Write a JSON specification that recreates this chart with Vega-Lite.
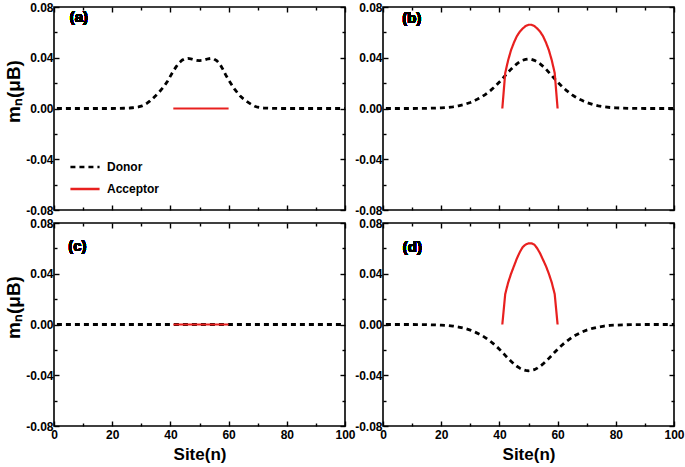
{
"$schema":"https://vega.github.io/schema/vega-lite/v6.json",
"autosize":{"type":"pad"},
"padding":{"left":3,"top":0,"right":0,"bottom":0},
"background":"white",
"datasets":{
"d":[
{"p":"a","s":"Donor","n":1,"m":0},{"p":"a","s":"Donor","n":5,"m":0},{"p":"a","s":"Donor","n":10,"m":0},{"p":"a","s":"Donor","n":15,"m":0},{"p":"a","s":"Donor","n":20,"m":0},{"p":"a","s":"Donor","n":22,"m":0.0001},{"p":"a","s":"Donor","n":24,"m":0.0002},{"p":"a","s":"Donor","n":26,"m":0.0004},{"p":"a","s":"Donor","n":27,"m":0.0006},{"p":"a","s":"Donor","n":28,"m":0.0008},{"p":"a","s":"Donor","n":29,"m":0.0012},{"p":"a","s":"Donor","n":30,"m":0.0018},{"p":"a","s":"Donor","n":31,"m":0.0028},{"p":"a","s":"Donor","n":32,"m":0.0042},{"p":"a","s":"Donor","n":33,"m":0.006},{"p":"a","s":"Donor","n":34,"m":0.008},{"p":"a","s":"Donor","n":35,"m":0.0102},{"p":"a","s":"Donor","n":36,"m":0.0125},{"p":"a","s":"Donor","n":37,"m":0.0152},{"p":"a","s":"Donor","n":38,"m":0.018},{"p":"a","s":"Donor","n":39,"m":0.0215},{"p":"a","s":"Donor","n":40,"m":0.0255},{"p":"a","s":"Donor","n":41,"m":0.0295},{"p":"a","s":"Donor","n":42,"m":0.033},{"p":"a","s":"Donor","n":43,"m":0.036},{"p":"a","s":"Donor","n":44,"m":0.038},{"p":"a","s":"Donor","n":45,"m":0.0392},{"p":"a","s":"Donor","n":46,"m":0.0395},{"p":"a","s":"Donor","n":47,"m":0.0392},{"p":"a","s":"Donor","n":48,"m":0.0385},{"p":"a","s":"Donor","n":49,"m":0.038},{"p":"a","s":"Donor","n":50,"m":0.0378},{"p":"a","s":"Donor","n":51,"m":0.038},{"p":"a","s":"Donor","n":52,"m":0.0385},{"p":"a","s":"Donor","n":53,"m":0.0392},{"p":"a","s":"Donor","n":54,"m":0.0395},{"p":"a","s":"Donor","n":55,"m":0.039},{"p":"a","s":"Donor","n":56,"m":0.0375},{"p":"a","s":"Donor","n":57,"m":0.035},{"p":"a","s":"Donor","n":58,"m":0.031},{"p":"a","s":"Donor","n":59,"m":0.0265},{"p":"a","s":"Donor","n":60,"m":0.0225},{"p":"a","s":"Donor","n":61,"m":0.019},{"p":"a","s":"Donor","n":62,"m":0.0155},{"p":"a","s":"Donor","n":63,"m":0.0125},{"p":"a","s":"Donor","n":64,"m":0.0098},{"p":"a","s":"Donor","n":65,"m":0.0078},{"p":"a","s":"Donor","n":66,"m":0.006},{"p":"a","s":"Donor","n":67,"m":0.0044},{"p":"a","s":"Donor","n":68,"m":0.003},{"p":"a","s":"Donor","n":69,"m":0.0018},{"p":"a","s":"Donor","n":70,"m":0.001},{"p":"a","s":"Donor","n":71,"m":0.0006},{"p":"a","s":"Donor","n":72,"m":0.0004},{"p":"a","s":"Donor","n":74,"m":0.0002},{"p":"a","s":"Donor","n":76,"m":0.0001},{"p":"a","s":"Donor","n":78,"m":0},{"p":"a","s":"Donor","n":80,"m":0},{"p":"a","s":"Donor","n":85,"m":0},{"p":"a","s":"Donor","n":90,"m":0},{"p":"a","s":"Donor","n":95,"m":0},{"p":"a","s":"Donor","n":100,"m":0},
{"p":"a","s":"Acceptor","n":41,"m":0},{"p":"a","s":"Acceptor","n":42,"m":0},{"p":"a","s":"Acceptor","n":43,"m":0},{"p":"a","s":"Acceptor","n":44,"m":0},{"p":"a","s":"Acceptor","n":45,"m":0},{"p":"a","s":"Acceptor","n":46,"m":0},{"p":"a","s":"Acceptor","n":47,"m":0},{"p":"a","s":"Acceptor","n":48,"m":0},{"p":"a","s":"Acceptor","n":49,"m":0},{"p":"a","s":"Acceptor","n":50,"m":0},{"p":"a","s":"Acceptor","n":51,"m":0},{"p":"a","s":"Acceptor","n":52,"m":0},{"p":"a","s":"Acceptor","n":53,"m":0},{"p":"a","s":"Acceptor","n":54,"m":0},{"p":"a","s":"Acceptor","n":55,"m":0},{"p":"a","s":"Acceptor","n":56,"m":0},{"p":"a","s":"Acceptor","n":57,"m":0},{"p":"a","s":"Acceptor","n":58,"m":0},{"p":"a","s":"Acceptor","n":59,"m":0},{"p":"a","s":"Acceptor","n":60,"m":0},
{"p":"b","s":"Donor","n":1,"m":0},{"p":"b","s":"Donor","n":5,"m":0},{"p":"b","s":"Donor","n":10,"m":0},{"p":"b","s":"Donor","n":15,"m":0.0001},{"p":"b","s":"Donor","n":20,"m":0.0005},{"p":"b","s":"Donor","n":22,"m":0.0008},{"p":"b","s":"Donor","n":24,"m":0.0013},{"p":"b","s":"Donor","n":26,"m":0.0021},{"p":"b","s":"Donor","n":28,"m":0.0032},{"p":"b","s":"Donor","n":30,"m":0.0047},{"p":"b","s":"Donor","n":31,"m":0.0057},{"p":"b","s":"Donor","n":32,"m":0.0068},{"p":"b","s":"Donor","n":33,"m":0.008},{"p":"b","s":"Donor","n":34,"m":0.0093},{"p":"b","s":"Donor","n":35,"m":0.0108},{"p":"b","s":"Donor","n":36,"m":0.0125},{"p":"b","s":"Donor","n":37,"m":0.0143},{"p":"b","s":"Donor","n":38,"m":0.0163},{"p":"b","s":"Donor","n":39,"m":0.0185},{"p":"b","s":"Donor","n":40,"m":0.0208},{"p":"b","s":"Donor","n":41,"m":0.0233},{"p":"b","s":"Donor","n":42,"m":0.026},{"p":"b","s":"Donor","n":43,"m":0.0285},{"p":"b","s":"Donor","n":44,"m":0.031},{"p":"b","s":"Donor","n":45,"m":0.0332},{"p":"b","s":"Donor","n":46,"m":0.0352},{"p":"b","s":"Donor","n":47,"m":0.0368},{"p":"b","s":"Donor","n":48,"m":0.038},{"p":"b","s":"Donor","n":49,"m":0.0387},{"p":"b","s":"Donor","n":50,"m":0.039},{"p":"b","s":"Donor","n":51,"m":0.0387},{"p":"b","s":"Donor","n":52,"m":0.038},{"p":"b","s":"Donor","n":53,"m":0.0368},{"p":"b","s":"Donor","n":54,"m":0.0352},{"p":"b","s":"Donor","n":55,"m":0.0332},{"p":"b","s":"Donor","n":56,"m":0.031},{"p":"b","s":"Donor","n":57,"m":0.0285},{"p":"b","s":"Donor","n":58,"m":0.026},{"p":"b","s":"Donor","n":59,"m":0.0233},{"p":"b","s":"Donor","n":60,"m":0.0208},{"p":"b","s":"Donor","n":61,"m":0.0185},{"p":"b","s":"Donor","n":62,"m":0.0163},{"p":"b","s":"Donor","n":63,"m":0.0143},{"p":"b","s":"Donor","n":64,"m":0.0125},{"p":"b","s":"Donor","n":65,"m":0.0108},{"p":"b","s":"Donor","n":66,"m":0.0093},{"p":"b","s":"Donor","n":67,"m":0.008},{"p":"b","s":"Donor","n":68,"m":0.0068},{"p":"b","s":"Donor","n":69,"m":0.0057},{"p":"b","s":"Donor","n":70,"m":0.0047},{"p":"b","s":"Donor","n":72,"m":0.0032},{"p":"b","s":"Donor","n":74,"m":0.0021},{"p":"b","s":"Donor","n":76,"m":0.0013},{"p":"b","s":"Donor","n":78,"m":0.0008},{"p":"b","s":"Donor","n":80,"m":0.0005},{"p":"b","s":"Donor","n":85,"m":0.0001},{"p":"b","s":"Donor","n":90,"m":0},{"p":"b","s":"Donor","n":95,"m":0},{"p":"b","s":"Donor","n":100,"m":0},
{"p":"b","s":"Acceptor","n":41,"m":0},{"p":"b","s":"Acceptor","n":42,"m":0.028},{"p":"b","s":"Acceptor","n":43,"m":0.038},{"p":"b","s":"Acceptor","n":44,"m":0.046},{"p":"b","s":"Acceptor","n":45,"m":0.052},{"p":"b","s":"Acceptor","n":46,"m":0.057},{"p":"b","s":"Acceptor","n":47,"m":0.0605},{"p":"b","s":"Acceptor","n":48,"m":0.063},{"p":"b","s":"Acceptor","n":49,"m":0.065},{"p":"b","s":"Acceptor","n":50,"m":0.066},{"p":"b","s":"Acceptor","n":51,"m":0.066},{"p":"b","s":"Acceptor","n":52,"m":0.065},{"p":"b","s":"Acceptor","n":53,"m":0.063},{"p":"b","s":"Acceptor","n":54,"m":0.0605},{"p":"b","s":"Acceptor","n":55,"m":0.057},{"p":"b","s":"Acceptor","n":56,"m":0.052},{"p":"b","s":"Acceptor","n":57,"m":0.046},{"p":"b","s":"Acceptor","n":58,"m":0.038},{"p":"b","s":"Acceptor","n":59,"m":0.028},{"p":"b","s":"Acceptor","n":60,"m":0},
{"p":"c","s":"Donor","n":1,"m":0},{"p":"c","s":"Donor","n":5,"m":0},{"p":"c","s":"Donor","n":10,"m":0},{"p":"c","s":"Donor","n":15,"m":0},{"p":"c","s":"Donor","n":20,"m":0},{"p":"c","s":"Donor","n":25,"m":0},{"p":"c","s":"Donor","n":30,"m":0},{"p":"c","s":"Donor","n":35,"m":0},{"p":"c","s":"Donor","n":40,"m":0},{"p":"c","s":"Donor","n":45,"m":0},{"p":"c","s":"Donor","n":50,"m":0},{"p":"c","s":"Donor","n":55,"m":0},{"p":"c","s":"Donor","n":60,"m":0},{"p":"c","s":"Donor","n":65,"m":0},{"p":"c","s":"Donor","n":70,"m":0},{"p":"c","s":"Donor","n":75,"m":0},{"p":"c","s":"Donor","n":80,"m":0},{"p":"c","s":"Donor","n":85,"m":0},{"p":"c","s":"Donor","n":90,"m":0},{"p":"c","s":"Donor","n":95,"m":0},{"p":"c","s":"Donor","n":100,"m":0},
{"p":"c","s":"Acceptor","n":41,"m":0},{"p":"c","s":"Acceptor","n":42,"m":0},{"p":"c","s":"Acceptor","n":43,"m":0},{"p":"c","s":"Acceptor","n":44,"m":0},{"p":"c","s":"Acceptor","n":45,"m":0},{"p":"c","s":"Acceptor","n":46,"m":0},{"p":"c","s":"Acceptor","n":47,"m":0},{"p":"c","s":"Acceptor","n":48,"m":0},{"p":"c","s":"Acceptor","n":49,"m":0},{"p":"c","s":"Acceptor","n":50,"m":0},{"p":"c","s":"Acceptor","n":51,"m":0},{"p":"c","s":"Acceptor","n":52,"m":0},{"p":"c","s":"Acceptor","n":53,"m":0},{"p":"c","s":"Acceptor","n":54,"m":0},{"p":"c","s":"Acceptor","n":55,"m":0},{"p":"c","s":"Acceptor","n":56,"m":0},{"p":"c","s":"Acceptor","n":57,"m":0},{"p":"c","s":"Acceptor","n":58,"m":0},{"p":"c","s":"Acceptor","n":59,"m":0},{"p":"c","s":"Acceptor","n":60,"m":0},
{"p":"d","s":"Donor","n":1,"m":0},{"p":"d","s":"Donor","n":5,"m":0},{"p":"d","s":"Donor","n":10,"m":0},{"p":"d","s":"Donor","n":15,"m":-0.0001},{"p":"d","s":"Donor","n":20,"m":-0.0005},{"p":"d","s":"Donor","n":22,"m":-0.0007},{"p":"d","s":"Donor","n":24,"m":-0.0012},{"p":"d","s":"Donor","n":26,"m":-0.002},{"p":"d","s":"Donor","n":28,"m":-0.003},{"p":"d","s":"Donor","n":30,"m":-0.0044},{"p":"d","s":"Donor","n":31,"m":-0.0053},{"p":"d","s":"Donor","n":32,"m":-0.0064},{"p":"d","s":"Donor","n":33,"m":-0.0075},{"p":"d","s":"Donor","n":34,"m":-0.0087},{"p":"d","s":"Donor","n":35,"m":-0.0101},{"p":"d","s":"Donor","n":36,"m":-0.0117},{"p":"d","s":"Donor","n":37,"m":-0.0134},{"p":"d","s":"Donor","n":38,"m":-0.0153},{"p":"d","s":"Donor","n":39,"m":-0.0173},{"p":"d","s":"Donor","n":40,"m":-0.0195},{"p":"d","s":"Donor","n":41,"m":-0.0218},{"p":"d","s":"Donor","n":42,"m":-0.0243},{"p":"d","s":"Donor","n":43,"m":-0.0267},{"p":"d","s":"Donor","n":44,"m":-0.029},{"p":"d","s":"Donor","n":45,"m":-0.0311},{"p":"d","s":"Donor","n":46,"m":-0.0329},{"p":"d","s":"Donor","n":47,"m":-0.0344},{"p":"d","s":"Donor","n":48,"m":-0.0356},{"p":"d","s":"Donor","n":49,"m":-0.0362},{"p":"d","s":"Donor","n":50,"m":-0.0365},{"p":"d","s":"Donor","n":51,"m":-0.0362},{"p":"d","s":"Donor","n":52,"m":-0.0356},{"p":"d","s":"Donor","n":53,"m":-0.0344},{"p":"d","s":"Donor","n":54,"m":-0.0329},{"p":"d","s":"Donor","n":55,"m":-0.0311},{"p":"d","s":"Donor","n":56,"m":-0.029},{"p":"d","s":"Donor","n":57,"m":-0.0267},{"p":"d","s":"Donor","n":58,"m":-0.0243},{"p":"d","s":"Donor","n":59,"m":-0.0218},{"p":"d","s":"Donor","n":60,"m":-0.0195},{"p":"d","s":"Donor","n":61,"m":-0.0173},{"p":"d","s":"Donor","n":62,"m":-0.0153},{"p":"d","s":"Donor","n":63,"m":-0.0134},{"p":"d","s":"Donor","n":64,"m":-0.0117},{"p":"d","s":"Donor","n":65,"m":-0.0101},{"p":"d","s":"Donor","n":66,"m":-0.0087},{"p":"d","s":"Donor","n":67,"m":-0.0075},{"p":"d","s":"Donor","n":68,"m":-0.0064},{"p":"d","s":"Donor","n":69,"m":-0.0053},{"p":"d","s":"Donor","n":70,"m":-0.0044},{"p":"d","s":"Donor","n":72,"m":-0.003},{"p":"d","s":"Donor","n":74,"m":-0.002},{"p":"d","s":"Donor","n":76,"m":-0.0012},{"p":"d","s":"Donor","n":78,"m":-0.0007},{"p":"d","s":"Donor","n":80,"m":-0.0005},{"p":"d","s":"Donor","n":85,"m":-0.0001},{"p":"d","s":"Donor","n":90,"m":0},{"p":"d","s":"Donor","n":95,"m":0},{"p":"d","s":"Donor","n":100,"m":0},
{"p":"d","s":"Acceptor","n":41,"m":0},{"p":"d","s":"Acceptor","n":42,"m":0.024},{"p":"d","s":"Acceptor","n":43,"m":0.033},{"p":"d","s":"Acceptor","n":44,"m":0.04},{"p":"d","s":"Acceptor","n":45,"m":0.046},{"p":"d","s":"Acceptor","n":46,"m":0.052},{"p":"d","s":"Acceptor","n":47,"m":0.057},{"p":"d","s":"Acceptor","n":48,"m":0.061},{"p":"d","s":"Acceptor","n":49,"m":0.063},{"p":"d","s":"Acceptor","n":50,"m":0.064},{"p":"d","s":"Acceptor","n":51,"m":0.064},{"p":"d","s":"Acceptor","n":52,"m":0.063},{"p":"d","s":"Acceptor","n":53,"m":0.06},{"p":"d","s":"Acceptor","n":54,"m":0.056},{"p":"d","s":"Acceptor","n":55,"m":0.051},{"p":"d","s":"Acceptor","n":56,"m":0.046},{"p":"d","s":"Acceptor","n":57,"m":0.04},{"p":"d","s":"Acceptor","n":58,"m":0.033},{"p":"d","s":"Acceptor","n":59,"m":0.024},{"p":"d","s":"Acceptor","n":60,"m":0}
]},
"columns":2,
"spacing":{"row":13,"column":38},
"bounds":"flush",
"resolve":{"scale":{"color":"independent","strokeDash":"independent","strokeWidth":"independent"}},
"config":{
 "view":{"stroke":"black","strokeWidth":1.6},
 "font":"Liberation Sans",
 "axis":{"domain":false,"grid":false,"labelFont":"Liberation Sans","labelFontWeight":"bold","labelFontSize":12,"labelColor":"black","tickColor":"black","tickWidth":1.4,"titleFont":"Liberation Sans","titleFontWeight":"bold","titleColor":"black","labelFlush":false,"labelOverlap":false,"labelBound":false,"labelPadding":6},
 "legend":{"labelFont":"Liberation Sans","labelFontWeight":"bold","labelFontSize":12,"labelColor":"black"}
},
"concat":[
{"width":291,"height":203,"data":{"name":"d"},"transform":[{"filter":"datum.p==='a'"}],
 "layer":[
  {"transform":[{"filter":"datum.s==='Donor'"}],"mark":{"type":"line","strokeWidth":2.8},
   "encoding":{"x":{"field":"n","type":"quantitative","scale":{"domain":[0,100],"nice":false},"axis":{"orient":"bottom","values":[0,10,20,30,40,50,60,70,80,90,100],"labels":false,"title":null,"tickSize":{"condition":{"test":"datum.value % 20 === 0","value":-5},"value":-3}}},
    "y":{"field":"m","type":"quantitative","scale":{"domain":[-0.08,0.08],"nice":false,"zero":false},"axis":{"orient":"left","values":[-0.08,-0.06,-0.04,-0.02,0,0.02,0.04,0.06,0.08],"labelExpr":"abs(round(datum.value*100)) % 4 === 0 ? (datum.value < -0.001 ? '-' : '') + format(abs(datum.value), '.2f') : ''","tickSize":{"condition":{"test":"abs(round(datum.value*100)) % 4 === 0","value":-5},"value":-3},"title":"mₙ(μB)","titleFontSize":19,"titlePadding":2,"titleY":84}},
    "color":{"field":"s","type":"nominal","scale":{"domain":["Donor","Acceptor"],"range":["black","#e8201f"]},"legend":{"orient":"bottom-left","title":null,"symbolType":"stroke","symbolSize":850,"symbolStrokeWidth":2.5,"labelOffset":6,"offset":15,"padding":0,"rowPadding":-14}},
    "strokeDash":{"field":"s","type":"nominal","scale":{"domain":["Donor","Acceptor"],"range":[[5,4],[1,0]]},"legend":{"orient":"bottom-left","title":null,"symbolType":"stroke","symbolSize":850,"symbolStrokeWidth":2.5,"labelOffset":6,"offset":15,"padding":0,"rowPadding":-14}}}},
  {"transform":[{"filter":"datum.s==='Acceptor'"}],"mark":{"type":"line","strokeWidth":2.2},
   "encoding":{"x":{"field":"n","type":"quantitative","axis":{"orient":"top","values":[0,10,20,30,40,50,60,70,80,90,100],"labels":false,"title":null,"tickSize":{"condition":{"test":"datum.value % 20 === 0","value":-5},"value":-3}}},
    "y":{"field":"m","type":"quantitative","axis":{"orient":"right","values":[-0.08,-0.06,-0.04,-0.02,0,0.02,0.04,0.06,0.08],"labels":false,"title":null,"tickSize":{"condition":{"test":"abs(round(datum.value*100)) % 4 === 0","value":-5},"value":-3}}},
    "color":{"field":"s","type":"nominal"},"strokeDash":{"field":"s","type":"nominal"}}},
  {"mark":{"type":"text","align":"left","baseline":"middle","fontSize":15,"fontWeight":"bold","font":"Liberation Sans","color":"black"},
   "encoding":{"x":{"datum":5.4,"axis":null},"y":{"datum":0.0724,"axis":null},"text":{"value":"(a)"}}}
 ],
 "resolve":{"axis":{"x":"independent","y":"independent"}}},
{"width":291,"height":203,"data":{"name":"d"},"transform":[{"filter":"datum.p==='b'"}],
 "layer":[
  {"transform":[{"filter":"datum.s==='Donor'"}],"mark":{"type":"line","strokeWidth":2.8},
   "encoding":{"x":{"field":"n","type":"quantitative","scale":{"domain":[0,100],"nice":false},"axis":{"orient":"bottom","values":[0,10,20,30,40,50,60,70,80,90,100],"labels":false,"title":null,"tickSize":{"condition":{"test":"datum.value % 20 === 0","value":-5},"value":-3}}},
    "y":{"field":"m","type":"quantitative","scale":{"domain":[-0.08,0.08],"nice":false,"zero":false},"axis":{"orient":"left","values":[-0.08,-0.06,-0.04,-0.02,0,0.02,0.04,0.06,0.08],"labelExpr":"abs(round(datum.value*100)) % 4 === 0 ? (datum.value < -0.001 ? '-' : '') + format(abs(datum.value), '.2f') : ''","tickSize":{"condition":{"test":"abs(round(datum.value*100)) % 4 === 0","value":-5},"value":-3},"title":null}},
    "color":{"field":"s","type":"nominal","scale":{"domain":["Donor","Acceptor"],"range":["black","#e8201f"]},"legend":null},
    "strokeDash":{"field":"s","type":"nominal","scale":{"domain":["Donor","Acceptor"],"range":[[5,4],[1,0]]},"legend":null}}},
  {"transform":[{"filter":"datum.s==='Acceptor'"}],"mark":{"type":"line","strokeWidth":2.2},
   "encoding":{"x":{"field":"n","type":"quantitative","axis":{"orient":"top","values":[0,10,20,30,40,50,60,70,80,90,100],"labels":false,"title":null,"tickSize":{"condition":{"test":"datum.value % 20 === 0","value":-5},"value":-3}}},
    "y":{"field":"m","type":"quantitative","axis":{"orient":"right","values":[-0.08,-0.06,-0.04,-0.02,0,0.02,0.04,0.06,0.08],"labels":false,"title":null,"tickSize":{"condition":{"test":"abs(round(datum.value*100)) % 4 === 0","value":-5},"value":-3}}},
    "color":{"field":"s","type":"nominal","legend":null},"strokeDash":{"field":"s","type":"nominal","legend":null}}},
  {"mark":{"type":"text","align":"left","baseline":"middle","fontSize":15,"fontWeight":"bold","font":"Liberation Sans","color":"black"},
   "encoding":{"x":{"datum":6.6,"axis":null},"y":{"datum":0.0716,"axis":null},"text":{"value":"(b)"}}}
 ],
 "resolve":{"axis":{"x":"independent","y":"independent"}}},
{"width":291,"height":203,"data":{"name":"d"},"transform":[{"filter":"datum.p==='c'"}],
 "layer":[
  {"transform":[{"filter":"datum.s==='Donor'"}],"mark":{"type":"line","strokeWidth":2.8},
   "encoding":{"x":{"field":"n","type":"quantitative","scale":{"domain":[0,100],"nice":false},"axis":{"orient":"bottom","values":[0,10,20,30,40,50,60,70,80,90,100],"labelExpr":"datum.value % 20 === 0 ? datum.label : ''","labelPadding":8,"title":"Site(n)","titleFontSize":17,"titlePadding":4,"tickSize":{"condition":{"test":"datum.value % 20 === 0","value":-5},"value":-3}}},
    "y":{"field":"m","type":"quantitative","scale":{"domain":[-0.08,0.08],"nice":false,"zero":false},"axis":{"orient":"left","values":[-0.08,-0.06,-0.04,-0.02,0,0.02,0.04,0.06,0.08],"labelExpr":"abs(round(datum.value*100)) % 4 === 0 ? (datum.value < -0.001 ? '-' : '') + format(abs(datum.value), '.2f') : ''","tickSize":{"condition":{"test":"abs(round(datum.value*100)) % 4 === 0","value":-5},"value":-3},"title":"mₙ(μB)","titleFontSize":19,"titlePadding":2,"titleY":84}},
    "color":{"field":"s","type":"nominal","scale":{"domain":["Donor","Acceptor"],"range":["black","#e8201f"]},"legend":null},
    "strokeDash":{"field":"s","type":"nominal","scale":{"domain":["Donor","Acceptor"],"range":[[5,4],[1,0]]},"legend":null}}},
  {"transform":[{"filter":"datum.s==='Acceptor'"}],"mark":{"type":"line","strokeWidth":2.2},
   "encoding":{"x":{"field":"n","type":"quantitative","axis":{"orient":"top","values":[0,10,20,30,40,50,60,70,80,90,100],"labels":false,"title":null,"tickSize":{"condition":{"test":"datum.value % 20 === 0","value":-5},"value":-3}}},
    "y":{"field":"m","type":"quantitative","axis":{"orient":"right","values":[-0.08,-0.06,-0.04,-0.02,0,0.02,0.04,0.06,0.08],"labels":false,"title":null,"tickSize":{"condition":{"test":"abs(round(datum.value*100)) % 4 === 0","value":-5},"value":-3}}},
    "color":{"field":"s","type":"nominal","legend":null},"strokeDash":{"field":"s","type":"nominal","legend":null}}},
  {"mark":{"type":"text","align":"left","baseline":"middle","fontSize":15,"fontWeight":"bold","font":"Liberation Sans","color":"black"},
   "encoding":{"x":{"datum":4.9,"axis":null},"y":{"datum":0.0619,"axis":null},"text":{"value":"(c)"}}}
 ],
 "resolve":{"axis":{"x":"independent","y":"independent"}}},
{"width":291,"height":203,"data":{"name":"d"},"transform":[{"filter":"datum.p==='d'"}],
 "layer":[
  {"transform":[{"filter":"datum.s==='Donor'"}],"mark":{"type":"line","strokeWidth":2.8},
   "encoding":{"x":{"field":"n","type":"quantitative","scale":{"domain":[0,100],"nice":false},"axis":{"orient":"bottom","values":[0,10,20,30,40,50,60,70,80,90,100],"labelExpr":"datum.value % 20 === 0 ? datum.label : ''","labelPadding":8,"title":"Site(n)","titleFontSize":17,"titlePadding":4,"tickSize":{"condition":{"test":"datum.value % 20 === 0","value":-5},"value":-3}}},
    "y":{"field":"m","type":"quantitative","scale":{"domain":[-0.08,0.08],"nice":false,"zero":false},"axis":{"orient":"left","values":[-0.08,-0.06,-0.04,-0.02,0,0.02,0.04,0.06,0.08],"labelExpr":"abs(round(datum.value*100)) % 4 === 0 ? (datum.value < -0.001 ? '-' : '') + format(abs(datum.value), '.2f') : ''","tickSize":{"condition":{"test":"abs(round(datum.value*100)) % 4 === 0","value":-5},"value":-3},"title":null}},
    "color":{"field":"s","type":"nominal","scale":{"domain":["Donor","Acceptor"],"range":["black","#e8201f"]},"legend":null},
    "strokeDash":{"field":"s","type":"nominal","scale":{"domain":["Donor","Acceptor"],"range":[[5,4],[1,0]]},"legend":null}}},
  {"transform":[{"filter":"datum.s==='Acceptor'"}],"mark":{"type":"line","strokeWidth":2.2},
   "encoding":{"x":{"field":"n","type":"quantitative","axis":{"orient":"top","values":[0,10,20,30,40,50,60,70,80,90,100],"labels":false,"title":null,"tickSize":{"condition":{"test":"datum.value % 20 === 0","value":-5},"value":-3}}},
    "y":{"field":"m","type":"quantitative","axis":{"orient":"right","values":[-0.08,-0.06,-0.04,-0.02,0,0.02,0.04,0.06,0.08],"labels":false,"title":null,"tickSize":{"condition":{"test":"abs(round(datum.value*100)) % 4 === 0","value":-5},"value":-3}}},
    "color":{"field":"s","type":"nominal","legend":null},"strokeDash":{"field":"s","type":"nominal","legend":null}}},
  {"mark":{"type":"text","align":"left","baseline":"middle","fontSize":15,"fontWeight":"bold","font":"Liberation Sans","color":"black"},
   "encoding":{"x":{"datum":6.8,"axis":null},"y":{"datum":0.0607,"axis":null},"text":{"value":"(d)"}}}
 ],
 "resolve":{"axis":{"x":"independent","y":"independent"}}}
]
}
